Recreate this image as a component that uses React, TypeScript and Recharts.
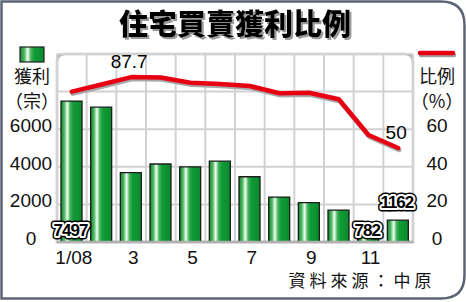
import { Bar, CartesianGrid, ComposedChart, Line, XAxis, YAxis } from "recharts";

const MONTHS = ["1/08", "2", "3", "4", "5", "6", "7", "8", "9", "10", "11", "12"];
const PROFIT_CASES = [7497, 7170, 3690, 4150, 4000, 4300, 3470, 2390, 2090, 1700, 782, 1162];
const PROFIT_RATIO = [80, 83.8, 87.7, 87.5, 84.7, 84.0, 83.0, 79.1, 79.4, 75.9, 56.9, 50];
const CASE_TICKS = [0, 2000, 4000, 6000, 8000, 10000];
const RATIO_TICKS = [0, 20, 40, 60, 80, 100];
const LABELLED_BARS = [0, 10, 11];
const LABELLED_POINTS = [2, 11];

const rows = MONTHS.map((month, i) => ({ month, cases: PROFIT_CASES[i], ratio: PROFIT_RATIO[i] }));

const NUM_FONT = "'Liberation Sans', Arial, sans-serif";
const CJK_FONT = "'Noto Sans CJK TC', 'Noto Sans CJK SC', sans-serif";
const PLOT_BOTTOM = 242;

function OutlinedNumber({ x, y, text }: { x: number; y: number; text: string }) {
  const common = {
    x,
    y,
    textAnchor: "middle" as const,
    fontFamily: NUM_FONT,
    fontWeight: 700,
    fontSize: 17,
    letterSpacing: -1,
    strokeLinejoin: "round" as const,
  };
  return (
    <g>
      <text {...common} fill="#000" stroke="#000" strokeWidth={7}>{text}</text>
      <text {...common} fill="#fff" stroke="#fff" strokeWidth={4}>{text}</text>
      <text {...common} fill="#000">{text}</text>
    </g>
  );
}

function barLabel(props: any) {
  const { x, y, width, height, value, index } = props;
  if (!LABELLED_BARS.includes(index)) return null;
  const cx = x + width / 2 - 1;
  // last bar gets its value above, the others sit at the bottom of the bar
  const by = index === PROFIT_CASES.length - 1 ? y - 12 : y + height - 6;
  return <OutlinedNumber key={index} x={cx} y={by} text={String(value)} />;
}

function ratioLabel(props: any) {
  const { x, y, value, index } = props;
  if (!LABELLED_POINTS.includes(index)) return null;
  return (
    <text key={index} x={x - 2} y={y - 9} textAnchor="middle" fontFamily={NUM_FONT} fontSize={19} fill="#000">
      {value}
    </text>
  );
}

function caseTick(props: any) {
  const { payload } = props;
  if (payload.value > 6000) return <g />;
  return (
    <text x={31} y={payload.coordinate - 4} dy="0.36em" textAnchor="middle" fontFamily={NUM_FONT} fontSize={19} fill="#111">
      {payload.value}
    </text>
  );
}

function ratioTick(props: any) {
  const { payload } = props;
  if (payload.value > 60) return <g />;
  return (
    <text x={437} y={payload.coordinate - 4} dy="0.36em" textAnchor="middle" fontFamily={NUM_FONT} fontSize={19} fill="#111">
      {payload.value}
    </text>
  );
}

function monthTick(props: any) {
  const { payload } = props;
  return (
    <text x={payload.coordinate + 2} y={PLOT_BOTTOM + 15} dy="0.36em" textAnchor="middle" fontFamily={NUM_FONT} fontSize={19} fill="#111">
      {payload.value}
    </text>
  );
}

function Frame() {
  return (
    <svg width={466} height={302} style={{ position: "absolute", left: 0, top: 0 }}>
      <defs>
        <linearGradient id="legendGreen" x1="0" y1="0" x2="1" y2="0">
          <stop offset="0%" stopColor="#0c8a2c" />
          <stop offset="18%" stopColor="#4db862" />
          <stop offset="32%" stopColor="#f2fff2" />
          <stop offset="46%" stopColor="#46b25c" />
          <stop offset="60%" stopColor="#109c36" />
          <stop offset="100%" stopColor="#0b8a2c" />
        </linearGradient>
        <filter id="titleShadow" x="-5%" y="-20%" width="110%" height="140%">
          <feDropShadow dx="2" dy="2" stdDeviation="0" floodColor="#9a9a9a" floodOpacity="1" />
        </filter>
      </defs>
      <path d="M1.5 1.5 H441 Q464.5 1.5 464.5 25 V275 Q464.5 298.5 441 298.5 H1.5 Z" fill="#fff" stroke="#5d6574" strokeWidth={2.5} />
      <path d="M57 242 V62 Q57 54 65 54 H405 Q413 54 413 62 V242 Z" fill="#fff" stroke="#b8b8b8" strokeWidth={2.5} />
      <text x={235} y={35} textAnchor="middle" fontFamily={CJK_FONT} fontWeight={900} fontSize={29} fill="#000" filter="url(#titleShadow)">
        住宅買賣獲利比例
      </text>
      <rect x={20} y={47} width={24} height={15} fill="url(#legendGreen)" stroke="#222" strokeWidth={1.2} />
      <g fontFamily={CJK_FONT} fontSize={18} fill="#111" textAnchor="middle">
        <text x={32} y={83}>獲利</text>
        <text x={32} y={108}>（宗）</text>
        <text x={437} y={83}>比例</text>
        <text x={437} y={108}>（%）</text>
      </g>
      <line x1={421} y1={55} x2={454} y2={55} stroke="#a0a0a0" strokeWidth={4.5} strokeLinecap="round" />
      <line x1={420} y1={53} x2={453} y2={53} stroke="#e60012" strokeWidth={4.5} strokeLinecap="round" />
      <text x={362} y={287} textAnchor="middle" fontFamily={CJK_FONT} fontSize={17} letterSpacing={4} fill="#111">
        資料來源：中原
      </text>
    </svg>
  );
}

export default function App() {
  return (
    <div style={{ position: "absolute", left: 0, top: 0, width: 466, height: 302, background: "#fff" }}>
      <Frame />
      <div style={{ position: "absolute", left: 0, top: 0 }}>
        <ComposedChart width={466} height={302} data={rows} margin={{ top: 54, right: 0, bottom: 30, left: 0 }} barCategoryGap={0}>
          <defs>
            <linearGradient id="barGreen" x1="0" y1="0" x2="1" y2="0">
              <stop offset="0%" stopColor="#0c8a2c" />
              <stop offset="16%" stopColor="#4db862" />
              <stop offset="30%" stopColor="#f2fff2" />
              <stop offset="44%" stopColor="#46b25c" />
              <stop offset="58%" stopColor="#109c36" />
              <stop offset="100%" stopColor="#0b8a2c" />
            </linearGradient>
          </defs>
          <CartesianGrid
            stroke="#d2d2d2"
            strokeWidth={2}
            verticalCoordinatesGenerator={({ offset }: any) =>
              Array.from({ length: MONTHS.length + 1 }, (_, i) => offset.left + (offset.width * i) / MONTHS.length)
            }
          />
          <XAxis dataKey="month" interval={1} height={30} axisLine={{ stroke: "#b0b0b0", strokeWidth: 2.5 }} tickLine={false} tick={monthTick} />
          <YAxis width={57} domain={[0, 10000]} ticks={CASE_TICKS} axisLine={false} tickLine={false} tick={caseTick} />
          <YAxis yAxisId="right" orientation="right" width={53} domain={[0, 100]} ticks={RATIO_TICKS} axisLine={false} tickLine={false} tick={ratioTick} />
          <Bar dataKey="cases" barSize={21} fill="url(#barGreen)" stroke="#1c1c1c" strokeWidth={1.3} isAnimationActive={false} label={barLabel} />
          <Line
            yAxisId="right"
            dataKey="ratio"
            type="linear"
            stroke="#e60012"
            strokeWidth={4.5}
            strokeLinejoin="round"
            strokeLinecap="round"
            dot={false}
            style={{ filter: "drop-shadow(1px 2px 0px #a8a8a8)" }}
            isAnimationActive={false}
            label={ratioLabel}
          />
        </ComposedChart>
      </div>
    </div>
  );
}
